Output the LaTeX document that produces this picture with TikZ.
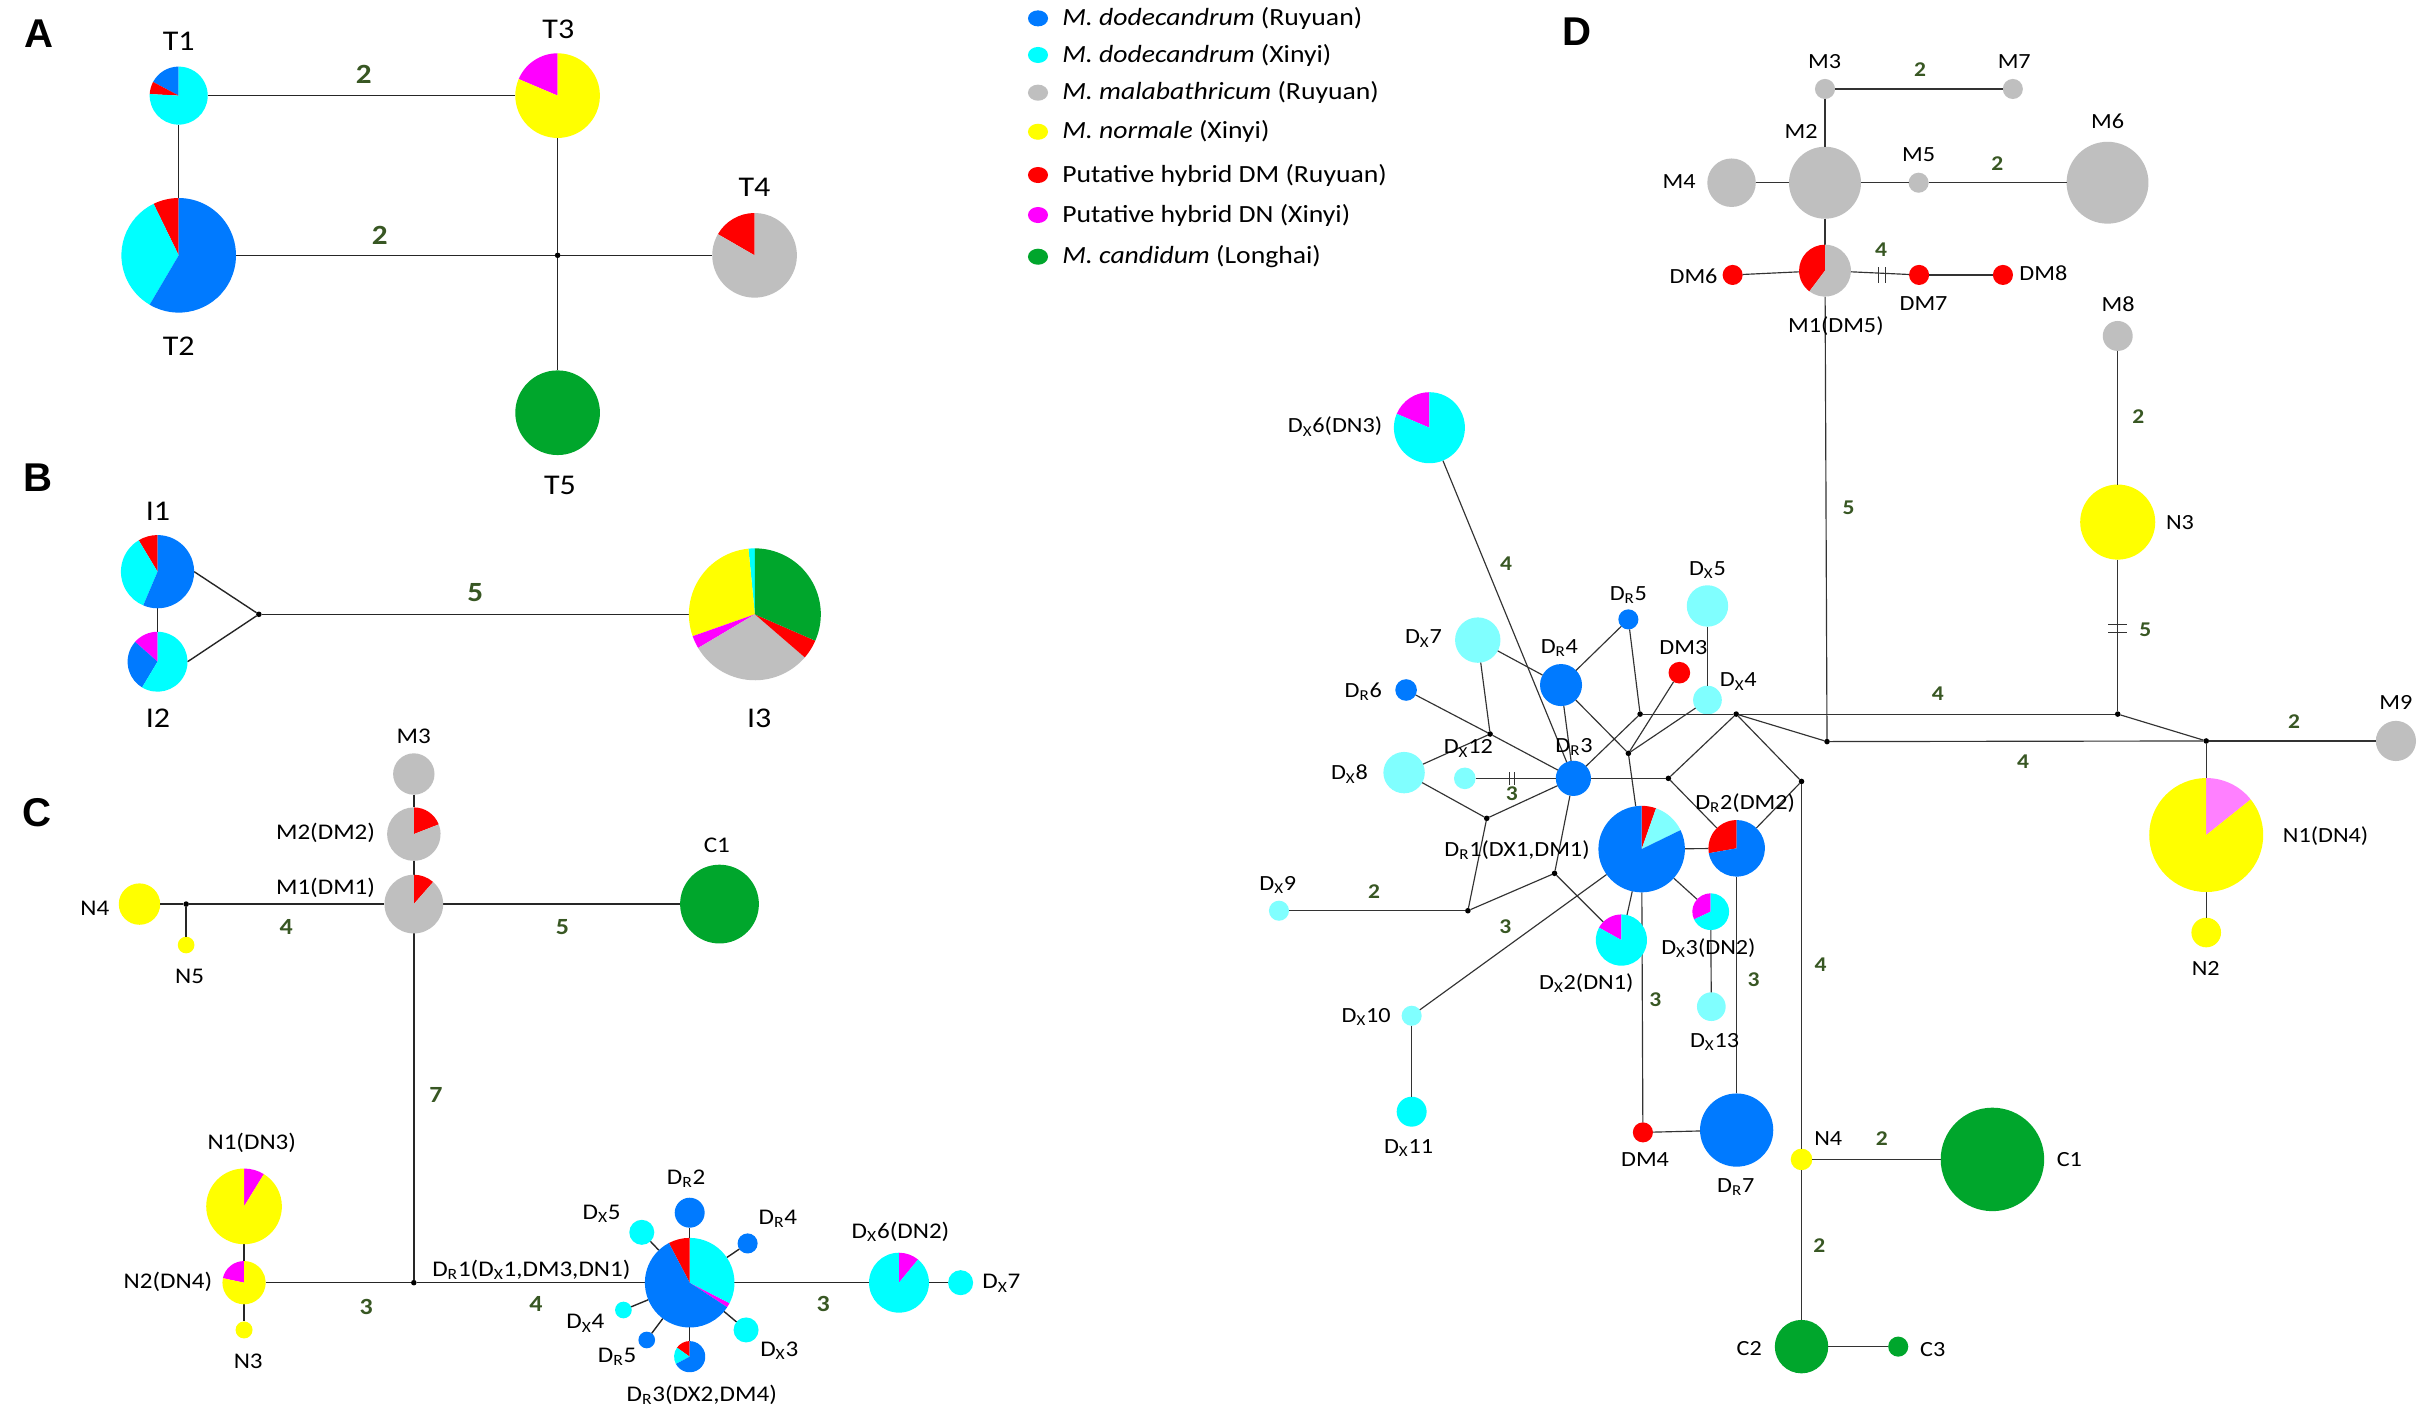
\documentclass[tikz,border=0pt]{standalone}
\usepackage{fontspec}
\setmainfont{Carlito}[FakeStretch=1.12]
\newfontfamily\panelfont{Liberation Sans}
\usetikzlibrary{shapes.geometric}
\definecolor{cBlue}{RGB}{0,122,255}
\definecolor{cCyan}{RGB}{0,255,255}
\definecolor{cLCyan}{RGB}{128,255,255}
\definecolor{cGray}{RGB}{191,191,191}
\definecolor{cYellow}{RGB}{255,255,0}
\definecolor{cRed}{RGB}{255,0,0}
\definecolor{cMag}{RGB}{255,0,255}
\definecolor{cPink}{RGB}{255,128,255}
\definecolor{cGreen}{RGB}{0,166,44}
\definecolor{cLab}{RGB}{56,87,35}
\tikzset{
  hapn/.style={circle, inner sep=0pt, outer sep=0pt, draw=none},
  jdot/.style={circle, fill=black, inner sep=0pt, outer sep=0pt, minimum size=3.6pt},
  edgeA/.style={line width=0.9pt, draw=black!85},
  edgeD/.style={line width=0.75pt, draw=black!80},
  tick/.style={line width=0.7pt, draw=black!80},
  lblA/.style={font=\fontsize{18.5}{20}\selectfont, inner sep=0pt},
  lblC/.style={font=\fontsize{14.5}{16}\selectfont, inner sep=0pt},
  lblD/.style={font=\fontsize{14}{16}\selectfont, inner sep=0pt},
  elA/.style={font=\bfseries\fontsize{18}{20}\selectfont, text=cLab, inner sep=0pt},
  elC/.style={font=\bfseries\fontsize{15}{17}\selectfont, text=cLab, inner sep=0pt},
  elD/.style={font=\bfseries\fontsize{13.6}{15}\selectfont, text=cLab, inner sep=0pt},
  panel/.style={font=\panelfont\bfseries\fontsize{26}{28}\selectfont, inner sep=0pt},
  leg/.style={font=\fontsize{16}{18}\selectfont, anchor=west, inner sep=0pt},
  legdot/.style={ellipse, inner sep=0pt, minimum width=13pt, minimum height=10.4pt},
}
\newcommand\hap[4]{\node[hapn,minimum size=2*#4] (#1) at (#2,-#3) {};}
\newcommand\haf[5]{\node[hapn,fill=#5,minimum size=2*#4] (#1) at (#2,-#3) {};}
\newcommand\jpt[3]{\node[jdot] (#1) at (#2,-#3) {};}
\newcommand\piefill[3]{\foreach \pa/\pb/\pc in {#3}{\fill[\pc] (#1.center) -- ++(\pa:#2) arc[start angle=\pa,end angle=\pb,radius=#2] -- cycle;}}
\newcommand\hlab[4]{\node[#1] at (#2,-#3) {#4};}
\newcommand\DX{D\textsubscript{X}}
\newcommand\DR{D\textsubscript{R}}
\begin{document}
\begin{tikzpicture}[x=1pt,y=1pt]
\useasboundingbox (0,0) rectangle (1568,-917.4);
\fill[white] (0,0) rectangle (1568,-917.4);

% ---------------- panel labels
\hlab{panel}{25.5}{21.6}{A}
\hlab{panel}{24.5}{309}{B}
\hlab{panel}{23.9}{526.1}{C}
\hlab{panel}{1020.9}{20.5}{D}

% ---------------- legend
\node[legdot,fill=cBlue] (L1) at (672,-11.9) {};
\node[leg] at (687.5,-11.9) {\textit{M. dodecandrum} (Ruyuan)};
\node[legdot,fill=cCyan] (L2) at (672,-35.6) {};
\node[leg] at (687.5,-35.6) {\textit{M. dodecandrum} (Xinyi)};
\node[legdot,fill=cGray] (L3) at (672,-60) {};
\node[leg] at (687.5,-60) {\textit{M. malabathricum} (Ruyuan)};
\node[legdot,fill=cYellow] (L4) at (672,-85.3) {};
\node[leg] at (687.5,-85.3) {\textit{M. normale} (Xinyi)};
\node[legdot,fill=cRed] (L5) at (672,-113.3) {};
\node[leg] at (687.5,-113.3) {Putative hybrid DM (Ruyuan)};
\node[legdot,fill=cMag] (L6) at (672,-139.2) {};
\node[leg] at (687.5,-139.2) {Putative hybrid DN (Xinyi)};
\node[legdot,fill=cGreen] (L7) at (672,-166.2) {};
\node[leg] at (687.5,-166.2) {\textit{M. candidum} (Longhai)};

% ================= PANEL A
\hap{T1}{115.7}{61.9}{18.8}
\hap{T3}{361}{61.9}{27.4}
\hap{T2}{115.7}{165.3}{37.1}
\hap{T4}{488.5}{165.3}{27.4}
\haf{T5}{361}{267.2}{27.4}{cGreen}
\jpt{jA0}{361}{165.3}
\draw[edgeA] (T1) -- (T3);
\draw[edgeA] (T1) -- (T2);
\draw[edgeA] (T2) -- (jA0);
\draw[edgeA] (T3) -- (jA0);
\draw[edgeA] (jA0) -- (T4);
\draw[edgeA] (jA0) -- (T5);
\piefill{T1}{18.8}{90/152/cBlue,152/177/cRed,177/450/cCyan}
\piefill{T3}{27.4}{90/157/cMag,157/450/cYellow}
\piefill{T2}{37.1}{90/116/cRed,116/239.5/cCyan,239.5/450/cBlue}
\piefill{T4}{27.4}{90/150/cRed,150/450/cGray}
\hlab{lblA}{115.7}{27}{T1}
\hlab{lblA}{361.5}{19}{T3}
\hlab{lblA}{115.7}{224}{T2}
\hlab{lblA}{488.5}{121.3}{T4}
\hlab{lblA}{362.5}{314}{T5}
\hlab{elA}{235.5}{47.9}{2}
\hlab{elA}{245.8}{152.1}{2}

% ================= PANEL B
\hap{I1}{102}{370.1}{23.7}
\hap{I2}{102}{428.4}{19.4}
\jpt{jB0}{167.6}{397.7}
\hap{I3}{488.7}{397.7}{42.7}
\draw[edgeA] (I1) -- (I2);
\draw[edgeA] (I1.east) -- (jB0);
\draw[edgeA] (I2.east) -- (jB0);
\draw[edgeA] (jB0) -- (I3);
\piefill{I1}{23.7}{90/121/cRed,121/247/cCyan,247/450/cBlue}
\piefill{I2}{19.4}{90/138.5/cMag,138.5/239/cBlue,239/450/cCyan}
\piefill{I3}{42.7}{90/95.6/cCyan,95.6/199.4/cYellow,199.4/210.7/cMag,210.7/319.2/cGray,319.2/336.4/cRed,336.4/450/cGreen}
\hlab{lblA}{102.3}{331.3}{I1}
\hlab{lblA}{102.3}{465}{I2}
\hlab{lblA}{491.5}{465}{I3}
\hlab{elA}{307.7}{383.7}{5}

% ================= PANEL C
\haf{M3c}{267.9}{501.1}{13.4}{cGray}
\hap{M2c}{267.9}{540}{17.3}
\hap{M1c}{267.9}{585.3}{19}
\haf{N4c}{90.3}{585.3}{13.4}{cYellow}
\jpt{jC1}{120.5}{585.3}
\haf{N5c}{120.5}{611.8}{5.4}{cYellow}
\haf{C1c}{465.8}{585.3}{25.5}{cGreen}
\jpt{jC2}{267.9}{830.4}
\hap{N1c}{158}{781}{24.5}
\hap{N2c}{158}{830.4}{14}
\haf{N3c}{158}{861}{5.5}{cYellow}
\hap{DR1c}{446.5}{830.4}{29}
\haf{DR2c}{446.5}{785.1}{9.7}{cBlue}
\haf{DR4c}{484}{805}{6.5}{cBlue}
\haf{DX5c}{415.5}{797.8}{8.1}{cCyan}
\haf{DX4c}{403.6}{848.1}{5.4}{cCyan}
\haf{DR5c}{418.7}{867.5}{5.4}{cBlue}
\hap{DR3c}{446.5}{878.3}{10.1}
\haf{DX3c}{483}{861}{8.1}{cCyan}
\hap{DX6c}{582}{830.4}{19.4}
\haf{DX7c}{621.9}{830.4}{8.1}{cCyan}
\draw[edgeA] (M3c) -- (M2c);
\draw[edgeA] (M2c) -- (M1c);
\draw[edgeA] (N4c) -- (jC1);
\draw[edgeA] (jC1) -- (M1c);
\draw[edgeA] (jC1) -- (N5c);
\draw[edgeA] (M1c) -- (C1c);
\draw[edgeA] (M1c) -- (jC2);
\draw[edgeA] (N1c) -- (N2c);
\draw[edgeA] (N2c) -- (N3c);
\draw[edgeA] (N2c) -- (jC2);
\draw[edgeA] (jC2) -- (DR1c);
\draw[edgeA] (DR1c) -- (DX6c);
\draw[edgeA] (DX6c) -- (DX7c);
\foreach \s in {DR2c,DR4c,DX5c,DX4c,DR5c,DR3c,DX3c} \draw[edgeA] (DR1c) -- (\s);
\piefill{M2c}{17.3}{21.3/90/cRed,90/381.3/cGray}
\piefill{M1c}{19}{48.8/90/cRed,90/408.8/cGray}
\piefill{N1c}{24.5}{58.4/90/cMag,90/418.4/cYellow}
\piefill{N2c}{14}{90/168/cMag,168/450/cYellow}
\piefill{DR1c}{29}{-33.2/-27.2/cMag,-27.2/90/cCyan,90/117.7/cRed,117.7/326.8/cBlue}
\piefill{DR3c}{10.1}{90/144.6/cRed,144.6/207.8/cCyan,207.8/450/cBlue}
\piefill{DX6c}{19.4}{50.6/90/cMag,90/410.6/cCyan}
\hlab{lblC}{267.9}{477}{M3}
\node[lblC,anchor=east] at (243,-539.5) {M2(DM2)};
\node[lblC,anchor=east] at (243,-575) {M1(DM1)};
\hlab{lblC}{61.4}{588.1}{N4}
\hlab{lblC}{122.8}{631.9}{N5}
\hlab{lblC}{464.1}{547}{C1}
\hlab{lblC}{163}{740.2}{N1(DN3)}
\hlab{lblC}{108.7}{829.8}{N2(DN4)}
\hlab{lblC}{160.7}{881}{N3}
\hlab{lblC}{344}{822}{\DR1(\DX1,DM3,DN1)}
\hlab{lblC}{444.2}{763.3}{\DR2}
\hlab{lblC}{389.5}{786}{\DX5}
\hlab{lblC}{503.6}{789.2}{\DR4}
\hlab{lblC}{583}{797.4}{\DX6(DN2)}
\hlab{lblC}{648.3}{830.9}{\DX7}
\hlab{lblC}{379}{856.8}{\DX4}
\hlab{lblC}{399.5}{878.3}{\DR5}
\hlab{lblC}{504.5}{874.5}{\DX3}
\hlab{lblC}{454.3}{903.1}{\DR3(DX2,DM4)}
\hlab{elC}{185.3}{600}{4}
\hlab{elC}{364.2}{600}{5}
\hlab{elC}{282.2}{708.9}{7}
\hlab{elC}{237}{846}{3}
\hlab{elC}{347}{844}{4}
\hlab{elC}{533}{844}{3}

% ================= PANEL D
\haf{M3d}{1181.5}{57.6}{6.5}{cGray}
\haf{M7d}{1303.1}{57.6}{6.5}{cGray}
\haf{M2d}{1181.5}{118.3}{23.3}{cGray}
\haf{M4d}{1121}{118.3}{15.7}{cGray}
\haf{M5d}{1242.1}{118.3}{6.5}{cGray}
\haf{M6d}{1364.4}{118.3}{26.5}{cGray}
\hap{M1d}{1181.5}{175.2}{16.8}
\haf{DM6d}{1121.7}{178}{6.5}{cRed}
\haf{DM7d}{1242.4}{178}{6.5}{cRed}
\haf{DM8d}{1296.7}{178}{6.5}{cRed}
\haf{M8d}{1371}{217.5}{9.7}{cGray}
\haf{N3d}{1371}{338}{24.3}{cYellow}
\jpt{jN3}{1371}{462.3}
\jpt{jM1}{1182.8}{480.1}
\jpt{jN1}{1428.3}{479.7}
\haf{M9d}{1551.1}{479.7}{13}{cGray}
\hap{N1d}{1428.3}{540.6}{36.9}
\haf{N2d}{1428.3}{603.7}{9.6}{cYellow}
\jpt{jC}{1124}{462.3}
\haf{DX4d}{1105.4}{453.2}{9.3}{cLCyan}
\haf{DX5d}{1105.4}{392.3}{13.4}{cLCyan}
\haf{DR5d}{1054.2}{401}{6.5}{cBlue}
\haf{DX7d}{956.7}{414.4}{14.7}{cLCyan}
\haf{DR4d}{1010.6}{443.5}{13.6}{cBlue}
\haf{DM3d}{1087.2}{435.5}{7}{cRed}
\haf{DR6d}{910.3}{446.7}{7}{cBlue}
\jpt{jB}{1061.8}{462.3}
\jpt{jA}{964.7}{475.2}
\jpt{jD}{1054.2}{487.7}
\jpt{jE}{1080.1}{503.9}
\jpt{jF}{1166.3}{505.9}
\haf{DR3d}{1018.6}{503.9}{11.4}{cBlue}
\haf{DX8d}{909}{500.2}{13.4}{cLCyan}
\haf{DX12d}{948.3}{503.9}{7}{cLCyan}
\hap{DX6d}{925.4}{276.9}{23}
\jpt{jG}{962.5}{529.8}
\jpt{jH}{950.3}{589.6}
\jpt{jI}{1006.4}{565.4}
\haf{DX9d}{828}{589.6}{6.5}{cLCyan}
\hap{DR1d}{1062.8}{549.7}{28}
\hap{DR2d}{1124.3}{549.2}{18.3}
\hap{DX2d}{1049.7}{608.6}{16.6}
\hap{DX3d}{1107.5}{590.2}{11.9}
\haf{DX13d}{1107.9}{651.7}{9.3}{cLCyan}
\haf{DX10d}{913.9}{657.6}{6.5}{cLCyan}
\haf{DX11d}{913.9}{719.7}{9.7}{cCyan}
\haf{DM4d}{1063.6}{733.1}{6.5}{cRed}
\haf{DR7d}{1124.3}{731.6}{23.7}{cBlue}
\haf{N4d}{1166.3}{750.6}{7}{cYellow}
\haf{C1d}{1289.9}{750.6}{33.5}{cGreen}
\haf{C2d}{1166.3}{871.8}{17.3}{cGreen}
\haf{C3d}{1228.9}{871.8}{6.5}{cGreen}
% edges
\draw[edgeD] (M3d) -- (M7d);
\draw[edgeD] (M3d) -- (M2d);
\draw[edgeD] (M2d) -- (M4d);
\draw[edgeD] (M2d) -- (M5d);
\draw[edgeD] (M5d) -- (M6d);
\draw[edgeD] (M2d) -- (M1d);
\draw[edgeD] (M1d) -- (DM6d);
\draw[edgeD] (M1d) -- (DM7d);
\draw[edgeD] (DM7d) -- (DM8d);
\draw[edgeD] (M1d) -- (jM1);
\draw[edgeD] (M8d) -- (N3d);
\draw[edgeD] (N3d) -- (jN3);
\draw[edgeD] (jC) -- (jN3);
\draw[edgeD] (jN3) -- (jN1);
\draw[edgeD] (jM1) -- (jN1);
\draw[edgeD] (jN1) -- (M9d);
\draw[edgeD] (jN1) -- (N1d);
\draw[edgeD] (N1d) -- (N2d);
\draw[edgeD] (jC) -- (jM1);
\draw[edgeD] (jB) -- (jC);
\draw[edgeD] (DX5d) -- (DX4d);
\draw[edgeD] (DX4d) -- (jD);
\draw[edgeD] (DM3d) -- (jD);
\draw[edgeD] (DR4d) -- (jD);
\draw[edgeD] (jD) -- (DR1d);
\draw[edgeD] (DR5d) -- (jB);
\draw[edgeD] (jB) -- (DR3d);
\draw[edgeD] (DR6d) -- (jA);
\draw[edgeD] (DX7d) -- (jA);
\draw[edgeD] (DX8d) -- (jA);
\draw[edgeD] (jA) -- (DR3d);
\draw[edgeD] (DX7d) -- (DR4d);
\draw[edgeD] (DR4d) -- (DR5d);
\draw[edgeD] (DR4d) -- (DR3d);
\draw[edgeD] (DX6d) -- (DR3d);
\draw[edgeD] (DX12d) -- (DR3d);
\draw[edgeD] (DR3d) -- (jE);
\draw[edgeD] (jE) -- (jC);
\draw[edgeD] (jE) -- (DR2d);
\draw[edgeD] (jC) -- (jF);
\draw[edgeD] (jF) -- (DR2d);
\draw[edgeD] (jF) -- (N4d);
\draw[edgeD] (DX8d) -- (jG);
\draw[edgeD] (jG) -- (DR3d);
\draw[edgeD] (jG) -- (jH);
\draw[edgeD] (jH) -- (DX9d);
\draw[edgeD] (jH) -- (jI);
\draw[edgeD] (jI) -- (DR3d);
\draw[edgeD] (jI) -- (DX2d);
\draw[edgeD] (DR1d) -- (DR2d);
\draw[edgeD] (DR1d) -- (DX2d);
\draw[edgeD] (DR1d) -- (DX3d);
\draw[edgeD] (DR1d) -- (DX10d);
\draw[edgeD] (DR1d) -- (DM4d);
\draw[edgeD] (DX3d) -- (DX13d);
\draw[edgeD] (DX10d) -- (DX11d);
\draw[edgeD] (DM4d) -- (DR7d);
\draw[edgeD] (DR2d) -- (DR7d);
\draw[edgeD] (N4d) -- (C1d);
\draw[edgeD] (N4d) -- (C2d);
\draw[edgeD] (C2d) -- (C3d);
% tick marks
\coordinate (tk1) at (1218.4,-178);
\draw[tick] ([shift={(-2,-5)}]tk1) -- ++(0,10);
\draw[tick] ([shift={(2,-5)}]tk1) -- ++(0,10);
\coordinate (tk2) at (978.7,-503.9);
\draw[tick] ([shift={(-1.6,-4)}]tk2) -- ++(0,8);
\draw[tick] ([shift={(1.6,-4)}]tk2) -- ++(0,8);
\coordinate (tk3) at (1371,-406.7);
\draw[tick] ([shift={(-6,-2.5)}]tk3) -- ++(12,0);
\draw[tick] ([shift={(-6,2.5)}]tk3) -- ++(12,0);
% pies
\piefill{M1d}{16.8}{90/233/cRed,233/450/cGray}
\piefill{N1d}{36.9}{38.7/90/cPink,90/398.7/cYellow}
\piefill{DX6d}{23}{90/157/cMag,157/450/cCyan}
\piefill{DR1d}{28}{70.6/90/cRed,26/70.6/cLCyan,90/386/cBlue}
\piefill{DR2d}{18.3}{90/190/cRed,190/450/cBlue}
\piefill{DX2d}{16.6}{90/151/cMag,151/450/cCyan}
\piefill{DX3d}{11.9}{90/205/cMag,205/450/cCyan}
% labels
\hlab{lblD}{1181.2}{39.9}{M3}
\hlab{lblD}{1304}{40}{M7}
\hlab{lblD}{1166}{85.3}{M2}
\hlab{lblD}{1087}{117.6}{M4}
\hlab{lblD}{1242.1}{100.3}{M5}
\hlab{lblD}{1364.4}{78.8}{M6}
\hlab{lblD}{1188.5}{211}{M1(DM5)}
\hlab{lblD}{1096.4}{178.7}{DM6}
\hlab{lblD}{1245.3}{196.8}{DM7}
\hlab{lblD}{1322.9}{177}{DM8}
\hlab{lblD}{1371.3}{196.8}{M8}
\hlab{lblD}{1411.3}{338.6}{N3}
\hlab{lblD}{1551.1}{455.1}{M9}
\node[lblD,anchor=west] at (1477.7,-541.2) {N1(DN4)};
\hlab{lblD}{1428}{627}{N2}
\hlab{lblD}{864.3}{276.2}{\DX6(DN3)}
\hlab{lblD}{1105.4}{369}{\DX5}
\hlab{lblD}{1054.2}{385.2}{\DR5}
\hlab{lblD}{921.5}{413.3}{\DX7}
\hlab{lblD}{1009.5}{419.7}{\DR4}
\hlab{lblD}{1089.8}{419.3}{DM3}
\hlab{lblD}{1125.4}{441.3}{\DX4}
\hlab{lblD}{882.6}{447.8}{\DR6}
\hlab{lblD}{1019}{483.4}{\DR3}
\hlab{lblD}{873.6}{501.1}{\DX8}
\hlab{lblD}{950.6}{484.5}{\DX12}
\hlab{lblD}{827.2}{573}{\DX9}
\hlab{lblD}{982.1}{550.3}{\DR1(DX1,DM1)}
\hlab{lblD}{1129.8}{520}{\DR2(DM2)}
\hlab{lblD}{1027}{636.6}{\DX2(DN1)}
\hlab{lblD}{1106}{614}{\DX3(DN2)}
\hlab{lblD}{1110}{674.4}{\DX13}
\hlab{lblD}{884.5}{658.2}{\DX10}
\hlab{lblD}{911.9}{743.4}{\DX11}
\hlab{lblD}{1065}{751}{DM4}
\hlab{lblD}{1123.7}{768.3}{\DR7}
\hlab{lblD}{1183.6}{737}{N4}
\hlab{lblD}{1339.7}{751}{C1}
\hlab{lblD}{1132.5}{873}{C2}
\hlab{lblD}{1251.3}{873.6}{C3}
% edge labels
\hlab{elD}{1243}{45.3}{2}
\hlab{elD}{1293}{106.2}{2}
\hlab{elD}{1217.8}{161.4}{4}
\hlab{elD}{1196.8}{328.4}{5}
\hlab{elD}{1384.4}{269.9}{2}
\hlab{elD}{1388.9}{407.4}{5}
\hlab{elD}{1254.5}{449}{4}
\hlab{elD}{1309.7}{493.3}{4}
\hlab{elD}{1485.1}{467.2}{2}
\hlab{elD}{975}{364.7}{4}
\hlab{elD}{978.7}{513.6}{3}
\hlab{elD}{889.6}{577.3}{2}
\hlab{elD}{974.6}{600}{3}
\hlab{elD}{1071.7}{647.4}{3}
\hlab{elD}{1135.3}{634}{3}
\hlab{elD}{1178.6}{624.8}{4}
\hlab{elD}{1218.3}{737}{2}
\hlab{elD}{1177.8}{806.7}{2}
\end{tikzpicture}
\end{document}
